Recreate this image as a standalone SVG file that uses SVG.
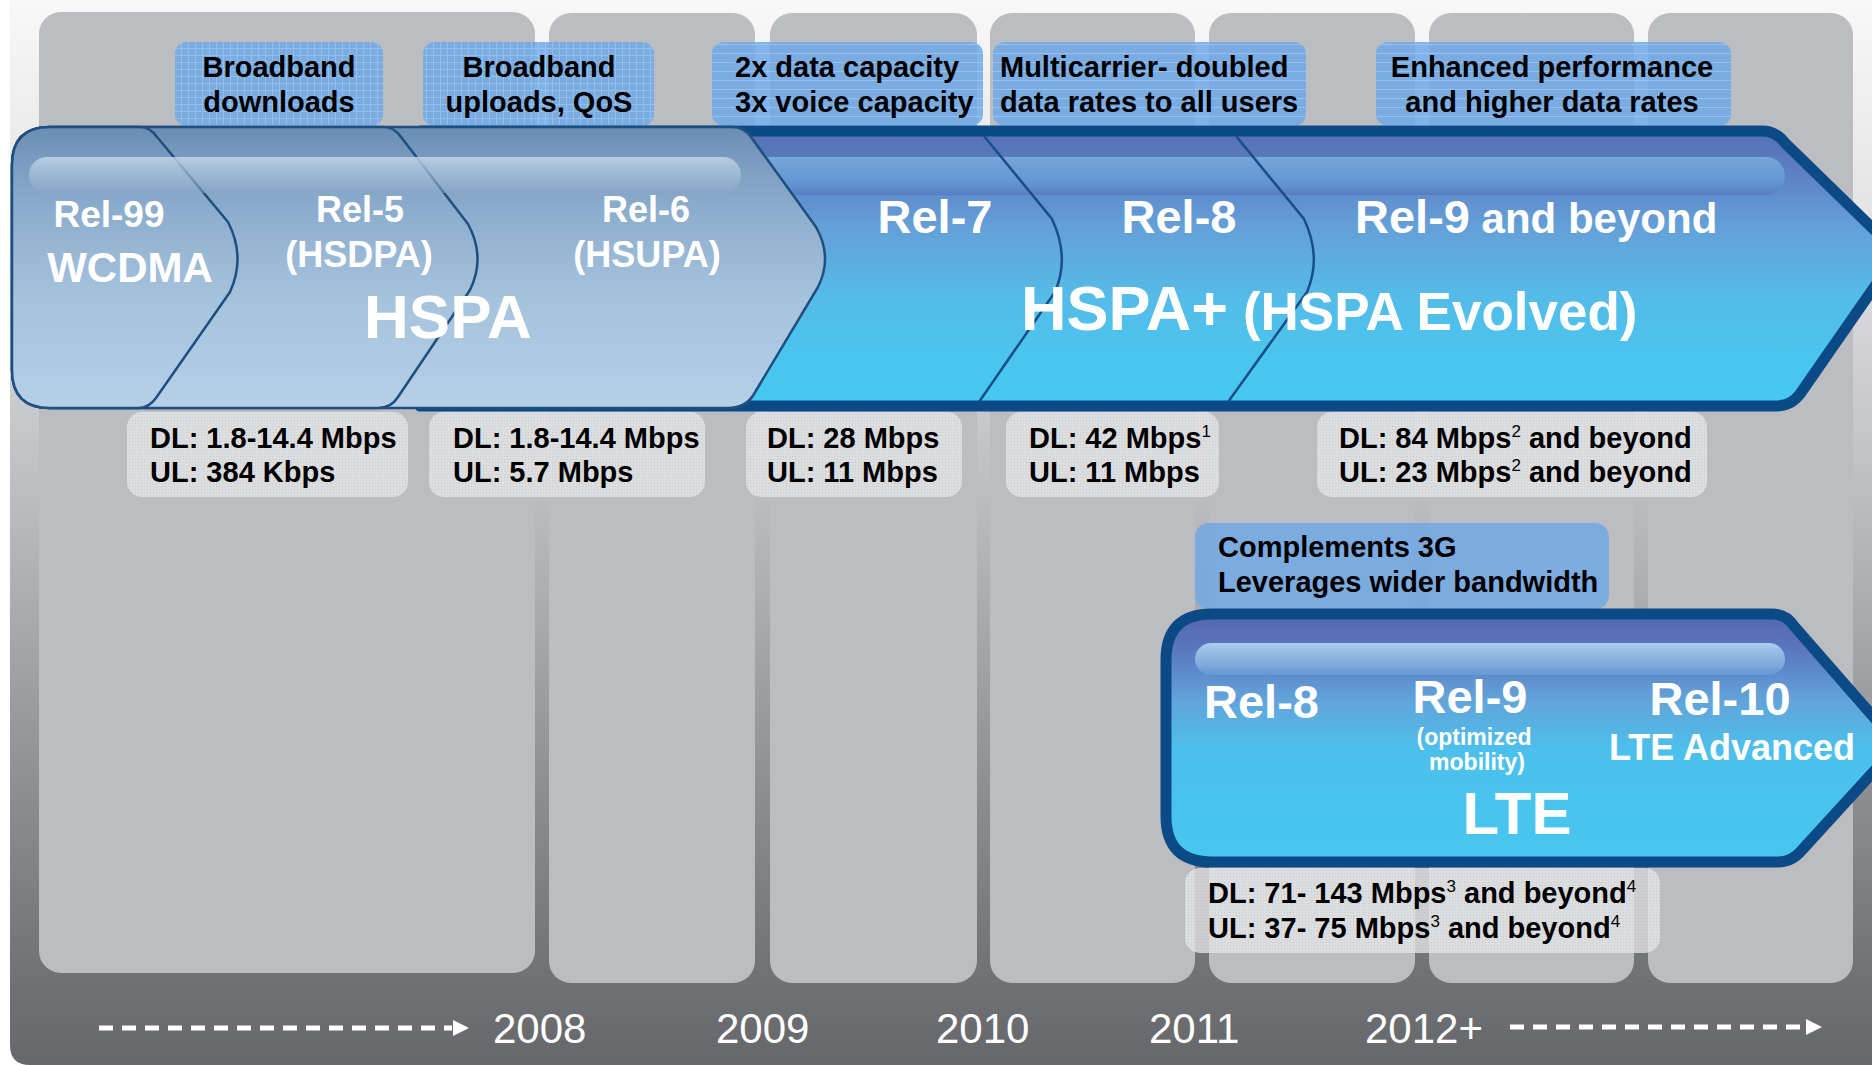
<svg xmlns="http://www.w3.org/2000/svg" width="1872" height="1065" viewBox="0 0 1872 1065">
<defs>
<linearGradient id="bgGrad" x1="0" y1="0" x2="0" y2="1">
<stop offset="0" stop-color="#f8f8f8"/>
<stop offset="0.2" stop-color="#e4e4e5"/>
<stop offset="0.4" stop-color="#c6c7c9"/>
<stop offset="0.55" stop-color="#aeafb2"/>
<stop offset="0.75" stop-color="#8c8d91"/>
<stop offset="0.9" stop-color="#737478"/>
<stop offset="1" stop-color="#66676b"/>
</linearGradient>
<linearGradient id="lightGrad" x1="0" y1="127" x2="0" y2="408" gradientUnits="userSpaceOnUse">
<stop offset="0" stop-color="#6a8db3"/>
<stop offset="0.12" stop-color="#7a9cc0"/>
<stop offset="0.3" stop-color="#8cadcd"/>
<stop offset="0.6" stop-color="#a5c2dc"/>
<stop offset="1" stop-color="#b5d0e7"/>
</linearGradient>
<linearGradient id="blueGrad" x1="0" y1="131" x2="0" y2="406" gradientUnits="userSpaceOnUse">
<stop offset="0" stop-color="#5470b4"/>
<stop offset="0.12" stop-color="#5b7cc0"/>
<stop offset="0.35" stop-color="#64a0d8"/>
<stop offset="0.6" stop-color="#55bbe8"/>
<stop offset="0.85" stop-color="#48c6ef"/>
<stop offset="1" stop-color="#45c8f0"/>
</linearGradient>
<linearGradient id="lteGrad" x1="0" y1="614" x2="0" y2="862" gradientUnits="userSpaceOnUse">
<stop offset="0" stop-color="#5468b2"/>
<stop offset="0.12" stop-color="#5a72bc"/>
<stop offset="0.35" stop-color="#62a4da"/>
<stop offset="0.55" stop-color="#4cc0ec"/>
<stop offset="1" stop-color="#46c7ef"/>
</linearGradient>
<linearGradient id="bandLight" x1="0" y1="0" x2="0" y2="1">
<stop offset="0" stop-color="#c4d7e7" stop-opacity="0.85"/>
<stop offset="0.6" stop-color="#a7c1d8" stop-opacity="0.6"/>
<stop offset="1" stop-color="#8aa8c6" stop-opacity="0.5"/>
</linearGradient>
<linearGradient id="bandBlue" x1="0" y1="0" x2="0" y2="1">
<stop offset="0" stop-color="#8cc6f0" stop-opacity="0.6"/>
<stop offset="0.6" stop-color="#70aee2" stop-opacity="0.45"/>
<stop offset="1" stop-color="#5270b8" stop-opacity="0.6"/>
</linearGradient>
<linearGradient id="bandLte" x1="0" y1="0" x2="0" y2="1">
<stop offset="0" stop-color="#b8d8f4" stop-opacity="0.9"/>
<stop offset="0.7" stop-color="#94c2ea" stop-opacity="0.6"/>
<stop offset="1" stop-color="#7aa8de" stop-opacity="0.4"/>
</linearGradient>
<pattern id="gridA" width="7" height="7" patternUnits="userSpaceOnUse">
<path d="M0 6.5H7M6.5 0V7" stroke="#a4d0f8" stroke-width="1" opacity="0.55"/>
</pattern>
<pattern id="linesH" width="10" height="9" patternUnits="userSpaceOnUse">
<path d="M0 8.5H10" stroke="#a4d0f8" stroke-width="1" opacity="0.6"/>
</pattern>
<pattern id="dots" width="3" height="3" patternUnits="userSpaceOnUse">
<rect width="1" height="1" fill="#b4b4b6"/>
</pattern>
<style>
text { font-family: "Liberation Sans", Arial, sans-serif; }
.col { fill: #bcbdc0; }
.bbox { fill: #6ea8e6; opacity: 0.85; }
.btxt { font-size: 29px; font-weight: bold; fill: #000; }
.gbox { fill: #e6e6e8; opacity: 0.78; }
.gdots { fill: url(#dots); opacity: 0.45; }
.light { fill: url(#lightGrad); stroke: #1f4f80; stroke-width: 2.5; stroke-linejoin: round; }
.div { fill: none; stroke: #1b4e86; stroke-width: 2.5; }
.w { fill: #fff; font-weight: bold; }
.sup { font-size: 17px; font-weight: normal; }
.year { font-size: 42px; fill: #fff; }
.dash { stroke: #fff; stroke-width: 5; stroke-dasharray: 14 9; fill: none; }
</style>
</defs>

<g id="background">
<rect width="1872" height="1065" fill="#ffffff"/>
<path d="M10,0 H1872 V1065 H30 Q10,1065 10,1045 Z" fill="url(#bgGrad)"/>
</g>

<g id="columns">
<rect class="col" x="39" y="12" width="496" height="961" rx="22"/>
<rect class="col" x="549" y="13" width="206" height="970" rx="22"/>
<rect class="col" x="770" y="13" width="207" height="970" rx="22"/>
<rect class="col" x="990" y="13" width="205" height="970" rx="22"/>
<rect class="col" x="1209" y="13" width="206" height="970" rx="22"/>
<rect class="col" x="1429" y="13" width="205" height="970" rx="22"/>
<rect class="col" x="1648" y="13" width="205" height="970" rx="22"/>
</g>

<g id="box-broadband-downloads">
<rect class="bbox" x="175" y="42" width="208" height="84" rx="12"/>
<rect x="175" y="42" width="208" height="84" rx="12" fill="url(#gridA)"/>
<text class="btxt" x="279" y="77" text-anchor="middle">Broadband</text>
<text class="btxt" x="279" y="112" text-anchor="middle">downloads</text>
</g>
<g id="box-broadband-uploads">
<rect class="bbox" x="423" y="42" width="231" height="84" rx="12"/>
<rect x="423" y="42" width="231" height="84" rx="12" fill="url(#gridA)"/>
<text class="btxt" x="539" y="77" text-anchor="middle">Broadband</text>
<text class="btxt" x="539" y="112" text-anchor="middle">uploads, QoS</text>
</g>
<g id="box-capacity">
<rect class="bbox" x="712" y="42" width="271" height="84" rx="12"/>
<rect x="712" y="42" width="271" height="84" rx="12" fill="url(#linesH)"/>
<text class="btxt" x="735" y="77">2x data capacity</text>
<text class="btxt" x="735" y="112">3x voice capacity</text>
</g>
<g id="box-multicarrier">
<rect class="bbox" x="993" y="42" width="313" height="84" rx="12"/>
<rect x="993" y="42" width="313" height="84" rx="12" fill="url(#linesH)"/>
<text class="btxt" x="1000" y="77">Multicarrier- doubled</text>
<text class="btxt" x="1000" y="112">data rates to all users</text>
</g>
<g id="box-enhanced">
<rect class="bbox" x="1376" y="42" width="355" height="84" rx="12"/>
<rect x="1376" y="42" width="355" height="84" rx="12" fill="url(#linesH)"/>
<text class="btxt" x="1552" y="77" text-anchor="middle">Enhanced performance</text>
<text class="btxt" x="1552" y="112" text-anchor="middle">and higher data rates</text>
</g>

<g id="hspa-plus">
<path d="M420,131 L1762,131 Q1776,131 1785,143 L1898,253 L1800,394 Q1791,406 1776,406 L420,406 Z" fill="url(#blueGrad)" stroke="#0b4a87" stroke-width="11" stroke-linejoin="round"/>
<rect x="700" y="157" width="1085" height="38" rx="19" fill="url(#bandBlue)"/>
<path class="div" d="M984,136 L1052,219 Q1070,257 1055,292 L979,402"/>
<path class="div" d="M1236,136 L1304,219 Q1322,257 1307,292 L1228,402"/>
<text class="w" x="935" y="233" font-size="47" text-anchor="middle">Rel-7</text>
<text class="w" x="1179" y="233" font-size="47" text-anchor="middle">Rel-8</text>
<text class="w" x="1355" y="233" font-size="47">Rel-9<tspan font-size="42"> and beyond</tspan></text>
<text class="w" x="1021" y="330" font-size="63">HSPA+<tspan font-size="53"> (HSPA Evolved)</tspan></text>
</g>

<g id="hspa">
<path class="light" d="M50,127 L732,127 Q744,127 751,137 L816,227 Q833,257 818,287 L754,394 Q746,408 728,408 L50,408 Q12,408 12,370 L12,165 Q12,127 50,127 Z"/>
<path class="light" d="M50,127 L384,127 Q394,127 401,137 L468,224 Q486,257 470,290 L398,397 Q391,408 378,408 L50,408 Q12,408 12,370 L12,165 Q12,127 50,127 Z"/>
<path class="light" d="M50,127 L140,127 Q150,127 157,137 L228,222 Q246,257 230,292 L156,398 Q149,408 138,408 L50,408 Q12,408 12,370 L12,165 Q12,127 50,127 Z"/>
<rect x="29" y="157" width="712" height="36" rx="18" fill="url(#bandLight)"/>
<text class="w" x="109" y="227" font-size="37" text-anchor="middle">Rel-99</text>
<text class="w" x="130" y="282" font-size="42" text-anchor="middle">WCDMA</text>
<text class="w" x="360" y="222" font-size="36" text-anchor="middle">Rel-5</text>
<text class="w" x="359" y="267" font-size="36" text-anchor="middle">(HSDPA)</text>
<text class="w" x="646" y="222" font-size="36" text-anchor="middle">Rel-6</text>
<text class="w" x="647" y="267" font-size="36" text-anchor="middle">(HSUPA)</text>
<text class="w" x="364" y="338" font-size="62">HSPA</text>
</g>

<g id="rate-rel5">
<rect class="gbox" x="127" y="412" width="281" height="85" rx="15"/>
<rect class="gdots" x="127" y="412" width="281" height="85" rx="15"/>
<text class="btxt" x="150" y="448">DL: 1.8-14.4 Mbps</text>
<text class="btxt" x="150" y="482">UL: 384 Kbps</text>
</g>
<g id="rate-rel6">
<rect class="gbox" x="429" y="412" width="276" height="85" rx="15"/>
<rect class="gdots" x="429" y="412" width="276" height="85" rx="15"/>
<text class="btxt" x="453" y="448">DL: 1.8-14.4 Mbps</text>
<text class="btxt" x="453" y="482">UL: 5.7 Mbps</text>
</g>
<g id="rate-rel7">
<rect class="gbox" x="746" y="412" width="216" height="85" rx="15"/>
<rect class="gdots" x="746" y="412" width="216" height="85" rx="15"/>
<text class="btxt" x="767" y="448">DL: 28 Mbps</text>
<text class="btxt" x="767" y="482">UL: 11 Mbps</text>
</g>
<g id="rate-rel8">
<rect class="gbox" x="1006" y="412" width="213" height="85" rx="15"/>
<rect class="gdots" x="1006" y="412" width="213" height="85" rx="15"/>
<text class="btxt" x="1029" y="448">DL: 42 Mbps<tspan class="sup" dy="-11">1</tspan></text>
<text class="btxt" x="1029" y="482">UL: 11 Mbps</text>
</g>
<g id="rate-rel9">
<rect class="gbox" x="1317" y="412" width="390" height="85" rx="15"/>
<rect class="gdots" x="1317" y="412" width="390" height="85" rx="15"/>
<text class="btxt" x="1339" y="448">DL: 84 Mbps<tspan class="sup" dy="-11">2</tspan><tspan dy="11"> and beyond</tspan></text>
<text class="btxt" x="1339" y="482">UL: 23 Mbps<tspan class="sup" dy="-11">2</tspan><tspan dy="11"> and beyond</tspan></text>
</g>

<g id="box-complements">
<rect x="1195" y="523" width="414" height="86" rx="14" fill="#74a9e2" opacity="0.9"/>
<text class="btxt" x="1218" y="557">Complements 3G</text>
<text class="btxt" x="1218" y="592">Leverages wider bandwidth</text>
</g>

<g id="lte">
<path d="M1212,614 L1772,614 Q1786,614 1794,626 L1898,745 L1802,850 Q1792,862 1778,862 L1212,862 Q1166,862 1166,816 L1166,660 Q1166,614 1212,614 Z" fill="url(#lteGrad)" stroke="#0b4a87" stroke-width="11" stroke-linejoin="round"/>
<rect x="1195" y="643" width="590" height="32" rx="16" fill="url(#bandLte)"/>
<text class="w" x="1204" y="718" font-size="47">Rel-8</text>
<text class="w" x="1470" y="713" font-size="47" text-anchor="middle">Rel-9</text>
<text class="w" x="1474" y="745" font-size="23" text-anchor="middle">(optimized</text>
<text class="w" x="1477" y="770" font-size="23" text-anchor="middle">mobility)</text>
<text class="w" x="1517" y="834" font-size="60" text-anchor="middle">LTE</text>
<text class="w" x="1720" y="715" font-size="47" text-anchor="middle">Rel-10</text>
<text class="w" x="1732" y="760" font-size="36" text-anchor="middle">LTE Advanced</text>
</g>

<g id="rate-lte">
<rect class="gbox" x="1185" y="868" width="475" height="85" rx="15"/>
<rect class="gdots" x="1185" y="868" width="475" height="85" rx="15"/>
<text class="btxt" x="1208" y="903">DL: 71- 143 Mbps<tspan class="sup" dy="-11">3</tspan><tspan dy="11"> and beyond</tspan><tspan class="sup" dy="-11">4</tspan></text>
<text class="btxt" x="1208" y="938">UL: 37- 75 Mbps<tspan class="sup" dy="-11">3</tspan><tspan dy="11"> and beyond</tspan><tspan class="sup" dy="-11">4</tspan></text>
</g>

<g id="timeline">
<text class="year" x="493" y="1043">2008</text>
<text class="year" x="716" y="1043">2009</text>
<text class="year" x="936" y="1043">2010</text>
<text class="year" x="1149" y="1043">2011</text>
<text class="year" x="1365" y="1043">2012+</text>
</g>

<g id="connectors">
<line class="dash" x1="99" y1="1028" x2="452" y2="1028"/>
<polygon points="453,1020 469,1028 453,1036" fill="#fff"/>
<line class="dash" x1="1510" y1="1027" x2="1805" y2="1027"/>
<polygon points="1806,1019 1822,1027 1806,1035" fill="#fff"/>
</g>
</svg>
